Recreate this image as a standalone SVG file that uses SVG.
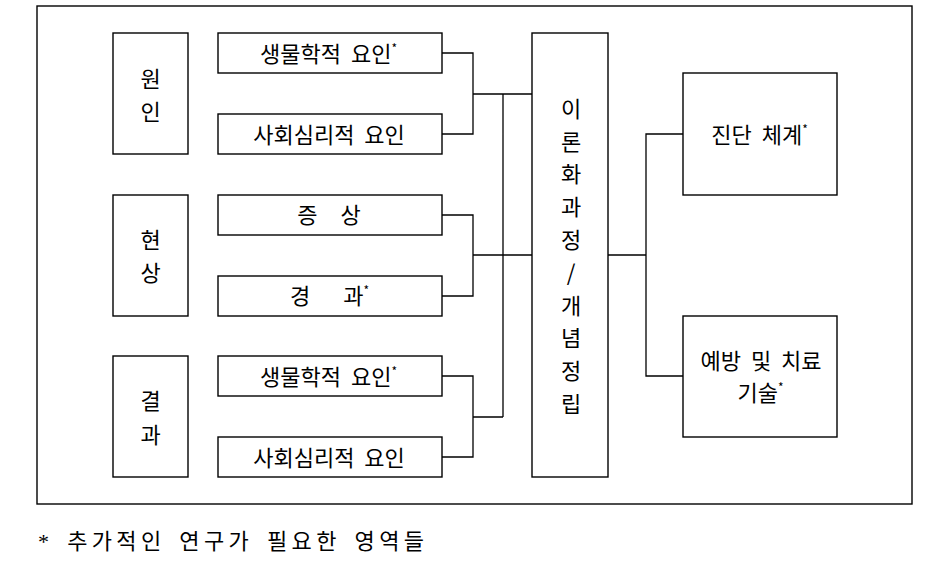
<svg xmlns="http://www.w3.org/2000/svg" width="940" height="571" viewBox="0 0 940 571">
<style>
.box{fill:#fff;stroke:#000;stroke-width:1.4}
.frame{fill:none;stroke:#000;stroke-width:1.4}
.ln{fill:none;stroke:#000;stroke-width:1.3}
.t{font-family:"Noto Sans CJK KR",sans-serif;font-size:22px;fill:#000;text-anchor:middle;word-spacing:5px}
.sup{font-size:12px}
.fn{font-family:"Liberation Serif","Noto Sans CJK KR",serif;font-size:22px;fill:#000;letter-spacing:4px;word-spacing:4px}
</style>
<rect class="frame" x="37" y="6" width="875" height="498"/>
<g id="connectors">
<path class="ln" d="M442 53H473V134H442M473 94H533M503 94V417"/>
<path class="ln" d="M442 215H473V296H442M473 255H533"/>
<path class="ln" d="M442 376H473V457H442M473 417H503"/>
<path class="ln" d="M608 255H646M683 134H646V376H683"/>
</g>
<g id="cause">
<rect class="box" x="113" y="33" width="75" height="121"/>
<text class="t" x="150.5" y="86.5">원</text>
<text class="t" x="150.5" y="119.5">인</text>
</g>
<g id="phenomenon">
<rect class="box" x="113" y="195" width="75" height="121"/>
<text class="t" x="150.5" y="247.5">현</text>
<text class="t" x="150.5" y="280.5">상</text>
</g>
<g id="result">
<rect class="box" x="113" y="356" width="75" height="121"/>
<text class="t" x="150.5" y="408.5">결</text>
<text class="t" x="150.5" y="442.5">과</text>
</g>
<g id="bio1">
<rect class="box" x="218" y="33" width="224" height="40"/>
<text class="t" x="328.5" y="61.5">생물학적 요인<tspan class="sup" dy="-9">*</tspan></text>
</g>
<g id="psy1">
<rect class="box" x="218" y="114" width="224" height="40"/>
<text class="t" x="329" y="142.5">사회심리적 요인</text>
</g>
<g id="symptom">
<rect class="box" x="218" y="195" width="224" height="40"/>
<text class="t" x="329" y="222.5" style="word-spacing:18px">증 상</text>
</g>
<g id="course">
<rect class="box" x="218" y="276" width="224" height="40"/>
<text class="t" x="329.5" y="303.5" style="word-spacing:28px">경 과<tspan class="sup" dy="-9">*</tspan></text>
</g>
<g id="bio2">
<rect class="box" x="218" y="356" width="224" height="40"/>
<text class="t" x="328.5" y="384.5">생물학적 요인<tspan class="sup" dy="-9">*</tspan></text>
</g>
<g id="psy2">
<rect class="box" x="218" y="437" width="224" height="40"/>
<text class="t" x="329" y="465.5">사회심리적 요인</text>
</g>
<g id="theory">
<rect class="box" x="532" y="33" width="76" height="444"/>
<text class="t" x="571" y="116.5">이</text>
<text class="t" x="571" y="149.5">론</text>
<text class="t" x="571" y="182">화</text>
<text class="t" x="571" y="215">과</text>
<text class="t" x="571" y="247.5">정</text>
<text class="t" x="571" y="280.5">/</text>
<text class="t" x="571" y="313.5">개</text>
<text class="t" x="571" y="346">념</text>
<text class="t" x="571" y="379">정</text>
<text class="t" x="571" y="411.5">립</text>
</g>
<g id="diagnosis">
<rect class="box" x="683" y="73" width="154" height="122"/>
<text class="t" x="759.5" y="142.5">진단 체계<tspan class="sup" dy="-9">*</tspan></text>
</g>
<g id="treatment">
<rect class="box" x="683" y="316" width="154" height="121"/>
<text class="t" x="761" y="368.5">예방 및 치료</text>
<text class="t" x="760.5" y="400.5">기술<tspan class="sup" dy="-9">*</tspan></text>
</g>
<text class="fn" x="38" y="549" textLength="390" lengthAdjust="spacing">* 추가적인 연구가 필요한 영역들</text>
</svg>
